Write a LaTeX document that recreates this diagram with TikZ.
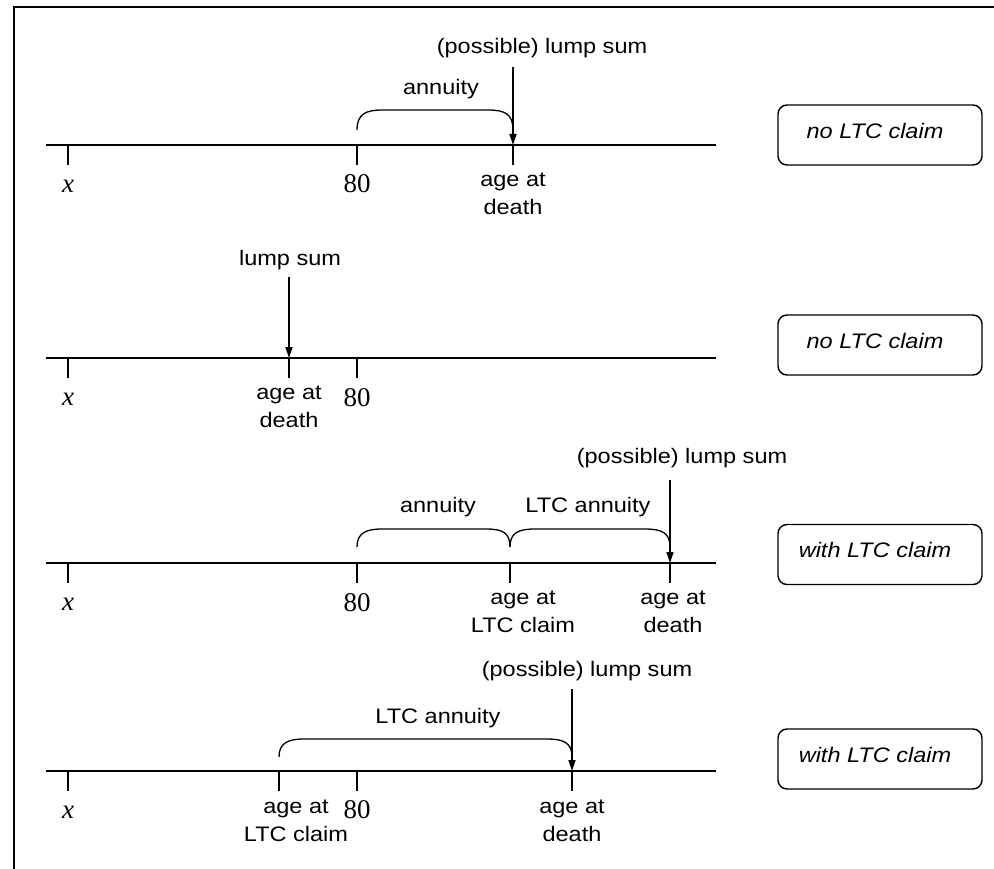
\documentclass[tikz,border=0pt]{standalone}
\usepackage{fontspec}
\setmainfont[FakeStretch=1.12]{Liberation Sans}
\newfontfamily\tmsfont{Liberation Serif}
\usetikzlibrary{arrows.meta}
\begin{document}
\begin{tikzpicture}[x=1pt,y=-1pt,
  line width=1.4pt,
  txt/.style={font=\fontsize{21}{28}\selectfont, inner sep=0pt, align=center},
  num/.style={font=\fontsize{27}{30}\selectfont\tmsfont, inner sep=0pt},
  var/.style={font=\fontsize{27}{30}\selectfont\tmsfont\itshape, inner sep=0pt},
  claimbox/.style={draw, rounded corners=9pt, minimum width=204pt, minimum height=60pt, inner sep=0pt},
  claimtxt/.style={font=\fontsize{21}{25}\selectfont\itshape, inner sep=0pt},
  lumparrow/.style={-{Triangle[length=11pt,width=7pt]}},
  brace/.style={line width=1.3pt},
]
\useasboundingbox (0,0) rectangle (994,869);
% frame
\draw (14,869) -- (14,7) -- (994,7);

% ---------------- Row 1 ----------------
\coordinate (a1L) at (46,145); \coordinate (a1R) at (716,145);
\coordinate (t1x) at (68,145); \coordinate (t180) at (357,145); \coordinate (t1d) at (513,145);
\draw (a1L) -- (a1R);
\foreach \t in {t1x,t180,t1d} \draw (\t) -- ++(0,20);
\node[var] (l1x) at (68,186) {x};
\node[num] (l180) at (357,184) {80};
\node[txt] (l1d) at (513,194) {age at\\death};
\draw[brace] (357,130) .. controls (357,114) and (366,110) .. (382,110) -- (488,110) .. controls (505,110) and (513,114) .. (513,130);
\node[txt] (l1ann) at (441,89) {annuity};
\node[txt] (l1lump) at (542,48) {(possible) lump sum};
\coordinate (r1top) at (513,67);
\draw[lumparrow] (r1top) -- (t1d);
\node[claimbox] (box1) at (880,135) {};
\node[claimtxt] (box1t) at (875,130.5) {no LTC claim};

% ---------------- Row 2 ----------------
\coordinate (a2L) at (46,358); \coordinate (a2R) at (716,358);
\coordinate (t2x) at (68,358); \coordinate (t2d) at (289,358); \coordinate (t280) at (357,358);
\draw (a2L) -- (a2R);
\foreach \t in {t2x,t2d,t280} \draw (\t) -- ++(0,20);
\node[var] (l2x) at (68,399) {x};
\node[num] (l280) at (357,398) {80};
\node[txt] (l2d) at (289,407) {age at\\death};
\node[txt] (l2lump) at (290,260) {lump sum};
\coordinate (r2top) at (289,277);
\draw[lumparrow] (r2top) -- (t2d);
\node[claimbox] (box2) at (880,345) {};
\node[claimtxt] (box2t) at (875,340.5) {no LTC claim};

% ---------------- Row 3 ----------------
\coordinate (a3L) at (46,563); \coordinate (a3R) at (716,563);
\coordinate (t3x) at (68,563); \coordinate (t380) at (357,563); \coordinate (t3c) at (510,563); \coordinate (t3d) at (670,563);
\draw (a3L) -- (a3R);
\foreach \t in {t3x,t380,t3c,t3d} \draw (\t) -- ++(0,20);
\node[var] (l3x) at (68,604) {x};
\node[num] (l380) at (357,603) {80};
\node[txt] (l3c) at (523,612) {age at\\LTC claim};
\node[txt] (l3d) at (673,612) {age at\\death};
\draw[brace] (357,547) .. controls (357,533) and (366,529) .. (382,529) -- (486,529) .. controls (503,529) and (510,533) .. (510,547);
\draw[brace] (510,547) .. controls (510,533) and (518,529) .. (535,529) -- (645,529) .. controls (662,529) and (670,533) .. (670,547);
\node[txt] (l3ann) at (438,507) {annuity};
\node[txt] (l3ltc) at (588,507) {LTC annuity};
\node[txt] (l3lump) at (682,458) {(possible) lump sum};
\coordinate (r3top) at (670,480);
\draw[lumparrow] (r3top) -- (t3d);
\node[claimbox] (box3) at (880,554.5) {};
\node[claimtxt] (box3t) at (875,549.5) {with LTC claim};

% ---------------- Row 4 ----------------
\coordinate (a4L) at (46,771); \coordinate (a4R) at (716,771);
\coordinate (t4x) at (68,771); \coordinate (t4c) at (279,771); \coordinate (t480) at (357,771); \coordinate (t4d) at (572,771);
\draw (a4L) -- (a4R);
\foreach \t in {t4x,t4c,t480,t4d} \draw (\t) -- ++(0,20);
\node[var] (l4x) at (68,812) {x};
\node[num] (l480) at (357,810) {80};
\node[txt] (l4c) at (296,821) {age at\\LTC claim};
\node[txt] (l4d) at (572,821) {age at\\death};
\draw[brace] (279,757) .. controls (279,743) and (288,739) .. (304,739) -- (547,739) .. controls (564,739) and (572,743) .. (572,757);
\node[txt] (l4ltc) at (438,718) {LTC annuity};
\node[txt] (l4lump) at (587,671) {(possible) lump sum};
\coordinate (r4top) at (572,689);
\draw[lumparrow] (r4top) -- (t4d);
\node[claimbox] (box4) at (880,759) {};
\node[claimtxt] (box4t) at (875,754.5) {with LTC claim};
\end{tikzpicture}
\end{document}
